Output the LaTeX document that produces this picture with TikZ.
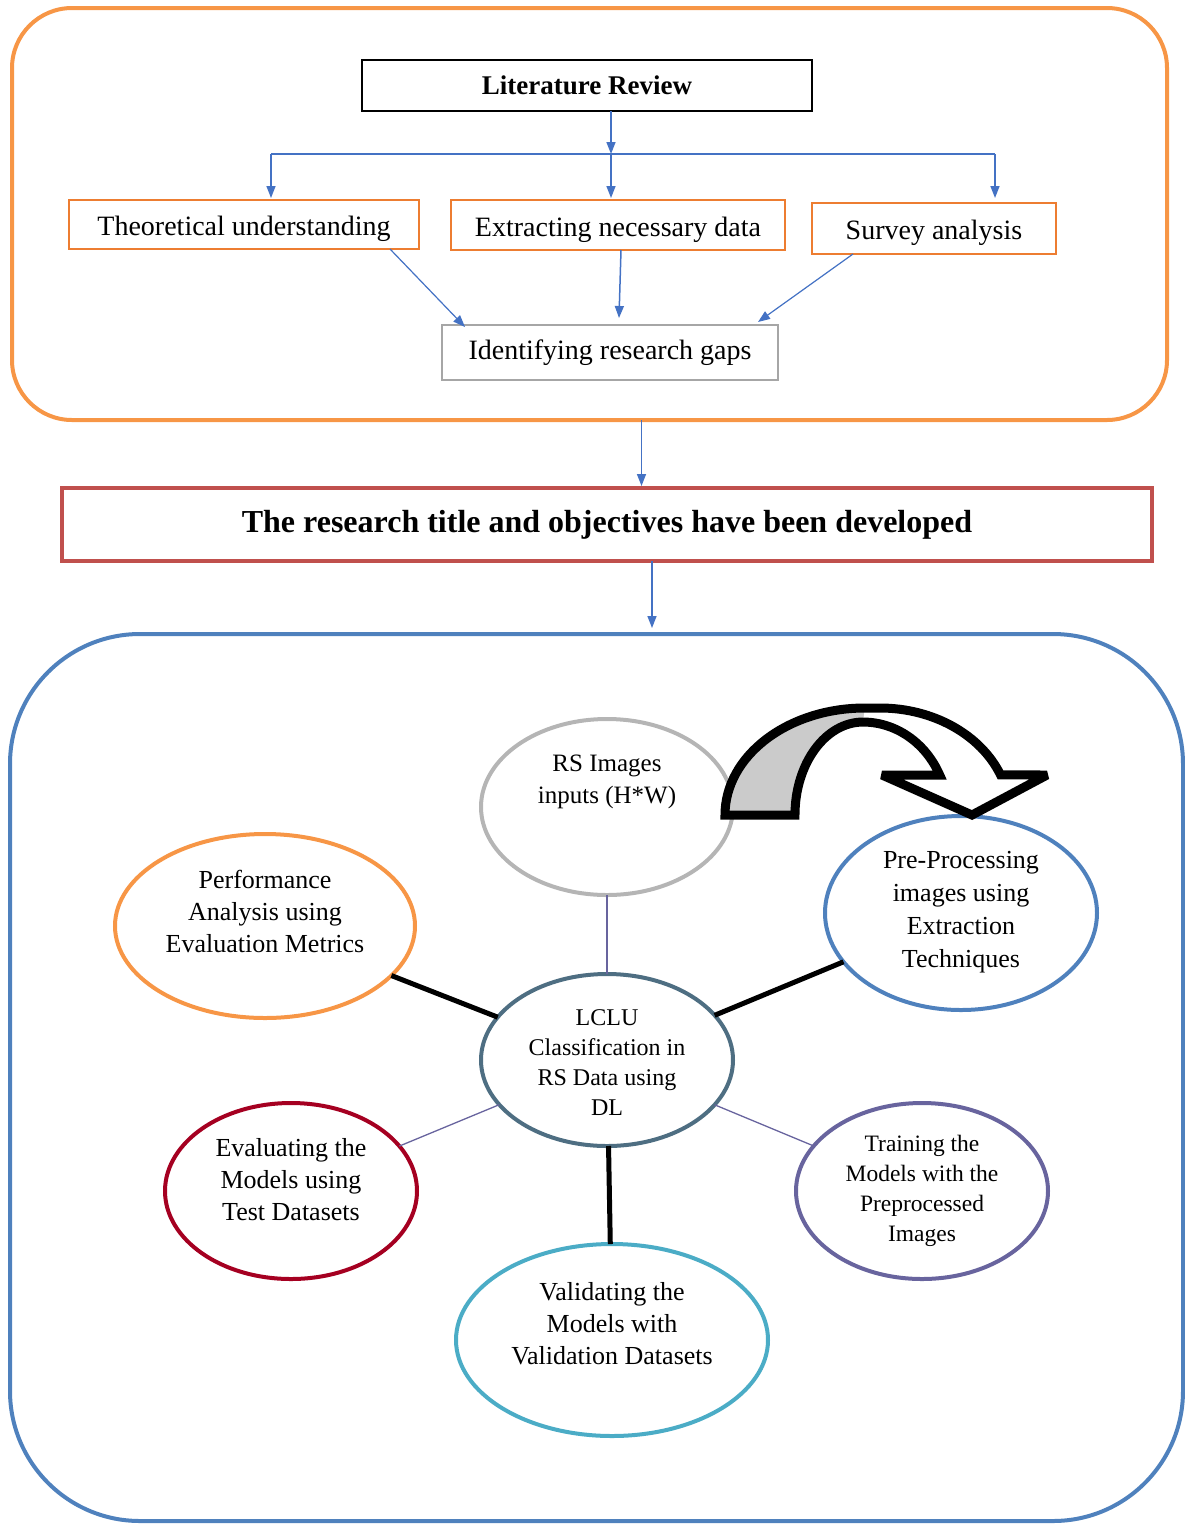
\documentclass[tikz,border=0pt]{standalone}
\usepackage{fontspec}
\setmainfont{Liberation Serif}
\usepackage{tikz}
\usetikzlibrary{arrows.meta, positioning, shapes.geometric, calc}
\definecolor{frameorange}{HTML}{F79646}
\definecolor{boxorange}{HTML}{ED7D31}
\definecolor{frameblue}{HTML}{4F81BD}
\definecolor{arrowblue}{HTML}{4472C4}
\definecolor{titlered}{HTML}{C0504D}
\definecolor{gapgray}{HTML}{A6A6A6}
\definecolor{rsgray}{HTML}{B5B5B5}
\definecolor{lclublue}{HTML}{4E6E82}
\definecolor{evalred}{HTML}{A50021}
\definecolor{trainpurple}{HTML}{68649E}
\definecolor{validcyan}{HTML}{4BACC6}
\definecolor{turngray}{HTML}{CBCBCB}

\begin{document}
\begin{tikzpicture}[
            x=1pt, y=1pt,
            >={Triangle[length=12pt, width=9pt]},
            frame/.style   ={draw, line width=4pt, inner sep=0pt, outer sep=0pt},
            topbox/.style  ={draw=boxorange, line width=1.6pt, inner sep=0pt, outer sep=0pt,
                             text height=22pt, text depth=0pt, font=\fontsize{28}{32}\selectfont},
            arr/.style     ={->, line width=1.5pt, draw=arrowblue, fill=arrowblue},
            ell/.style     ={ellipse, draw, line width=4pt, inner sep=0pt, outer sep=0pt},
            etxt/.style    ={align=center, inner sep=0pt, font=\fontsize{26}{32}\selectfont},
            spoke/.style   ={line width=5pt, draw=black},
            fine spoke/.style={line width=1.3pt, draw=trainpurple}
        ]
        \useasboundingbox (0,0) rectangle (1185,-1524);

        %% ---- top tier: literature review -------------------------------------
        \node[frame, draw=frameorange, rounded corners=60pt,
              minimum width=1155pt, minimum height=412pt] (litframe) at (589.5,-214) {};
        \node[draw=black, line width=2pt, inner sep=0pt, outer sep=0pt,
              minimum width=450pt, minimum height=51pt,
              font=\fontsize{27}{32}\selectfont\bfseries] (lit) at (587,-85.5) {Literature Review};

        \node[topbox, minimum width=350pt, minimum height=49pt] (theo) at (244,-224.5) {Theoretical understanding};
        \node[topbox, minimum width=334pt, minimum height=50pt] (extr) at (618,-225) {Extracting necessary data};
        \node[topbox, minimum width=244pt, minimum height=51pt] (surv) at (934,-228.5) {Survey analysis};
        \node[topbox, draw=gapgray, line width=2pt, text height=, text depth=,
              minimum width=336pt, minimum height=55pt] (gaps) at (610,-352.5) {Identifying research gaps};

        % split bus under the review box
        \coordinate (split) at (611,-154);
        \coordinate (busL) at ([xshift=27pt]theo.north |- split);
        \coordinate (busR) at ([xshift=61pt]surv.north |- split);
        \draw[arr] (lit.south -| split) -- (split);
        \draw[line width=1.5pt, draw=arrowblue] (busL) -- (busR);
        \draw[arr] (busL) -- (busL |- 0,-198);
        \draw[arr] (split) -- (split |- 0,-198);
        \draw[arr] (busR) -- (busR |- 0,-198);

        % three findings feed the gaps box
        \draw[arr, line width=1.2pt] ([xshift=-29pt]theo.south east) -- ([xshift=23pt,yshift=-2pt]gaps.north west);
        \draw[arr] ([xshift=3pt]extr.south) -- ([xshift=9pt,yshift=7pt]gaps.north);
        \draw[arr, line width=1.2pt] ([xshift=-81pt]surv.south) -- ([xshift=-20pt,yshift=3pt]gaps.north east);

        %% ---- middle tier: research title -------------------------------------
        \node[frame, draw=titlered, line width=4.5pt, minimum width=1090pt, minimum height=73pt,
              font=\fontsize{32}{38}\selectfont\bfseries] (title) at (607,-524.5)
              {The research title and objectives have been developed};
        \draw[arr] ([xshift=52pt]litframe.south) -- ([xshift=52pt,yshift=2pt]litframe.south |- title.north);

        %% ---- bottom tier: LCLU classification cycle --------------------------
        \node[frame, draw=frameblue, rounded corners=130pt,
              minimum width=1173pt, minimum height=887pt] (dlframe) at (596.5,-1077.5) {};
        \draw[arr] ([xshift=45pt]title.south) -- ([xshift=45pt,yshift=6pt]title.south |- dlframe.north);

        % ellipses, text set apart so it can sit off centre as printed
        \node[ell, draw=rsgray,      minimum width=252pt, minimum height=176pt] (rs)    at (607,-807) {};
        \node[ell, draw=frameblue,   minimum width=272pt, minimum height=194pt] (pre)   at (961,-913) {};
        \node[ell, draw=frameorange, minimum width=300pt, minimum height=184pt] (perf)  at (265,-926) {};
        \node[ell, draw=lclublue,    minimum width=252pt, minimum height=172pt] (lclu)  at (607,-1060) {};
        \node[ell, draw=evalred,     minimum width=252pt, minimum height=176pt] (eval)  at (291,-1191) {};
        \node[ell, draw=trainpurple, minimum width=252pt, minimum height=176pt] (train) at (922,-1191) {};
        \node[ell, draw=validcyan,   minimum width=312pt, minimum height=192pt] (valid) at (612,-1340) {};

        \node[etxt, font=\fontsize{25}{32}\selectfont] (rs txt) at (607,-782) {RS Images\\inputs (H*W)};
        \node[etxt, font=\fontsize{26}{33}\selectfont] (pre txt) at (961,-912) {Pre-Processing\\images using\\Extraction\\Techniques};
        \node[etxt] (perf txt)  at (265,-911) {Performance\\Analysis using\\Evaluation Metrics};
        \node[etxt, font=\fontsize{24}{30}\selectfont] (lclu txt) at (607,-1063) {LCLU\\Classification in\\RS Data using\\DL};
        \node[etxt] (eval txt)  at (291,-1180) {Evaluating the\\Models using\\Test Datasets};
        \node[etxt, font=\fontsize{23.5}{30}\selectfont] (train txt) at (922,-1191) {Training the\\Models with the\\Preprocessed\\Images};
        \node[etxt] (valid txt) at (612,-1324) {Validating the\\Models with\\Validation Datasets};

        % spokes to the hub
        \draw[fine spoke] (rs) -- (lclu);
        \draw[fine spoke] (eval) -- (lclu);
        \draw[fine spoke] (train) -- (lclu);
        \draw[spoke] (perf) -- (lclu);
        \draw[spoke] (pre) -- (lclu);
        \draw[spoke] (valid) -- (lclu);

        % curved block arrow from the input images to pre-processing:
        % shaded back face, white front face, then one outline over both
        \fill[turngray]
            (725,-815) arc[start angle=180, end angle=90, x radius=140, y radius=107]
            -- (863,-722) arc[start angle=90, end angle=180, x radius=68, y radius=93] -- cycle;
        \fill[white]
            (863,-722) -- (865,-708) -- (880,-708)
            arc[start angle=90, end angle=22, x radius=130, y radius=107]
            -- (1047,-775) -- (972,-815) -- (882,-775) -- (939.7,-775)
            arc[start angle=25.5, end angle=90, x radius=85, y radius=93] -- cycle;
        \draw[black, line width=9pt, miter limit=4]
            (725,-815) arc[start angle=180, end angle=90, x radius=140, y radius=107]
            -- (880,-708) arc[start angle=90, end angle=22, x radius=130, y radius=107]
            -- (1047,-775) -- (972,-815) -- (882,-775) -- (939.7,-775)
            arc[start angle=25.5, end angle=90, x radius=85, y radius=93]
            arc[start angle=90, end angle=180, x radius=68, y radius=93] -- cycle;
    \end{tikzpicture}
\end{document}
